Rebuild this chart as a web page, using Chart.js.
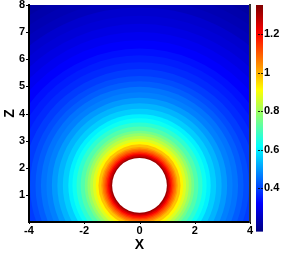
<!doctype html>
<html lang="en-US">
<head>
    <meta charset="utf-8" />
    <title>Field around cylinder</title>
    <script src="https://cdn.jsdelivr.net/npm/chart.js@4.4.1/dist/chart.umd.min.js"></script>
    <style>
        body { margin: 0; background: #fff; }
        .container { width: 283px; height: 255px; }
    </style>
</head>
<body>
    <div class="container"><canvas id="myChart"></canvas></div>
    <script>
        // cylinder centre and radius (data units)
        const centerX = 0;
        const centerZ = 1.35;
        const holeRadius = 1.0;

        // contour rings: outer radius (from centre) and value
        const ringRadius = [1.05, 1.1, 1.15, 1.2, 1.25, 1.3, 1.35, 1.4, 1.5, 1.6, 1.7, 1.8, 1.9, 2.0,
            2.15, 2.3, 2.45, 2.6, 2.8, 3.0, 3.2, 3.4, 3.6, 3.8, 4.0, 4.25, 4.5, 4.75, 5.0,
            5.3, 5.6, 5.9, 6.2, 6.5, 6.8, 7.1, 7.4, 7.7, 8.0, 8.5];
        const ringValue = [1.317, 1.268, 1.22, 1.17, 1.13, 1.09, 1.06, 1.02, 0.98, 0.92, 0.87, 0.83, 0.79, 0.75,
            0.71, 0.67, 0.63, 0.60, 0.56, 0.53, 0.50, 0.47, 0.455, 0.43, 0.41, 0.39, 0.37, 0.355, 0.34,
            0.32, 0.305, 0.29, 0.275, 0.265, 0.245, 0.235, 0.225, 0.215, 0.205, 0.195];

        const xTicks = [-4, -2, 0, 2, 4];
        const zTicks = [1, 2, 3, 4, 5, 6, 7, 8];
        const cbTicks = [0.4, 0.6, 0.8, 1, 1.2];
        // colour map range, and the part of it level with the plot
        const cbMin = 0.175;
        const cbMax = 1.352;
        const cbAxisMin = 0.225;

        const FONT = 'Liberation Sans, Arial, sans-serif';

        // jet colour map
        function jet(v) {
            const t = Math.min(1, Math.max(0, (v - cbMin) / (cbMax - cbMin)));
            const c = a => Math.round(255 * Math.min(1, Math.max(0, 1.5 - Math.abs(4 * t - a))));
            return `rgb(${c(3)},${c(2)},${c(1)})`;
        }

        function pxPerUnit(chart) {
            const x = chart.scales.x, y = chart.scales.y;
            const px = Math.abs(x.getPixelForValue(1) - x.getPixelForValue(0));
            const py = Math.abs(y.getPixelForValue(1) - y.getPixelForValue(0));
            return (px + py) / 2;
        }

        // outermost ring first so inner ones paint on top
        const rings = ringRadius.map((r, i) => ({ r: r, v: ringValue[i] })).reverse();

        const colorbar = {
            id: 'colorbar',
            afterDraw(chart) {
                const s = chart.scales.cb;
                const ctx = chart.ctx;
                const x0 = s.left + 6, w = 7;
                const top = s.getPixelForValue(cbMax), bottom = s.getPixelForValue(cbMin);
                const g = ctx.createLinearGradient(0, bottom, 0, top);
                [0, 0.125, 0.375, 0.625, 0.875, 1].forEach(t => {
                    g.addColorStop(t, jet(cbMin + t * (cbMax - cbMin)));
                });
                ctx.save();
                ctx.fillStyle = g;
                ctx.fillRect(x0, top, w, bottom - top);
                ctx.strokeStyle = 'rgba(0,0,0,0.8)';
                ctx.lineWidth = 1;
                ctx.setLineDash([2, 1]);
                cbTicks.forEach(v => {
                    const y = Math.round(s.getPixelForValue(v)) + 0.5;
                    ctx.beginPath();
                    ctx.moveTo(x0 + 2, y);
                    ctx.lineTo(x0 + w, y);
                    ctx.stroke();
                });
                ctx.setLineDash([]);
                // short outward tick marks on the plot
                const xs = chart.scales.x, ys = chart.scales.y, a = chart.chartArea;
                ctx.strokeStyle = '#000';
                xTicks.forEach(v => {
                    const x = Math.round(xs.getPixelForValue(v)) + 0.5;
                    ctx.beginPath();
                    ctx.moveTo(x, a.bottom);
                    ctx.lineTo(x, a.bottom + 2);
                    ctx.stroke();
                });
                zTicks.forEach(v => {
                    const y = Math.round(ys.getPixelForValue(v)) + 0.5;
                    ctx.beginPath();
                    ctx.moveTo(a.left, y);
                    ctx.lineTo(a.left - 3, y);
                    ctx.stroke();
                });
                ctx.restore();
            }
        };

        const tickFont = { family: FONT, size: 11, weight: 'bold' };
        const titleFont = { family: FONT, size: 14, weight: 'bold' };
        const noPad = s => { s.paddingTop = 0; s.paddingBottom = 0; };

        const chart = new Chart(document.getElementById('myChart'), {
            type: 'bubble',
            data: {
                datasets: [{
                    data: rings.map(() => ({ x: centerX, y: centerZ })),
                    backgroundColor: rings.map(d => jet(d.v)),
                    borderWidth: 0,
                    clip: 0,
                    order: 2
                }, {
                    data: [{ x: centerX, y: centerZ }],
                    backgroundColor: '#ffffff',
                    borderWidth: 0,
                    clip: 0,
                    order: 1
                }]
            },
            options: {
                responsive: true,
                maintainAspectRatio: false,
                animation: false,
                events: [],
                layout: { autoPadding: false, padding: { top: 5, right: 0, bottom: 0, left: 0 } },
                plugins: { legend: { display: false }, tooltip: { enabled: false } },
                scales: {
                    x: {
                        type: 'linear',
                        min: -4,
                        max: 4,
                        afterBuildTicks: s => { s.ticks = xTicks.map(v => ({ value: v })); },
                        afterFit: s => { s.height = 33; },
                        ticks: { color: '#000', font: tickFont, padding: 2 },
                        grid: { display: false, drawTicks: false },
                        border: { display: true, color: '#000', width: 2, z: 1 },
                        title: { display: true, text: 'X', color: '#000', font: titleFont, padding: { top: 0, bottom: 1 } }
                    },
                    y: {
                        type: 'linear',
                        min: 0,
                        max: 8,
                        afterBuildTicks: s => { s.ticks = zTicks.map(v => ({ value: v })); },
                        afterFit: s => { s.width = 29; noPad(s); },
                        ticks: { color: '#000', font: tickFont, padding: 4 },
                        grid: { display: false, drawTicks: false },
                        border: { display: true, color: '#000', width: 2, z: 1 },
                        title: { display: true, text: 'Z', color: '#000', font: titleFont, padding: 2 }
                    },
                    cb: {
                        type: 'linear',
                        position: 'right',
                        min: cbAxisMin,
                        max: cbMax,
                        afterBuildTicks: s => { s.ticks = cbTicks.map(v => ({ value: v })); },
                        afterFit: s => { s.width = 33; noPad(s); },
                        ticks: { color: '#000', font: tickFont, padding: 14, callback: v => String(Math.round(v * 10) / 10) },
                        grid: { display: false, drawTicks: false },
                        border: { display: true, color: '#333', width: 2, z: 1 }
                    }
                }
            },
            plugins: [colorbar]
        });

        // second pass: bubble sizes in pixels from the laid-out scales
        const k = pxPerUnit(chart);
        chart.data.datasets[0].data.forEach((p, i) => { p.r = rings[i].r * k; });
        chart.data.datasets[1].data[0].r = holeRadius * k;
        chart.update();
    </script>
</body>
</html>
